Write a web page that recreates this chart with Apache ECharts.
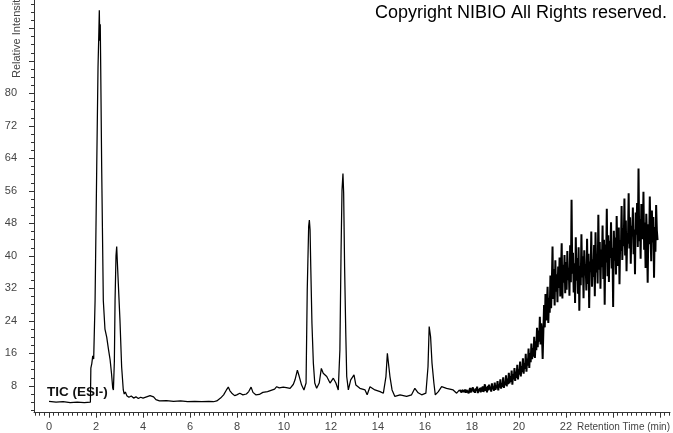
<!DOCTYPE html>
<html>
<head>
<meta charset="utf-8">
<script src="https://cdn.jsdelivr.net/npm/echarts@6/dist/echarts.min.js"></script>
<style>
html,body{margin:0;padding:0;background:#fff;}
#chart{width:673px;height:433px;}
</style>
</head>
<body>
<div id="chart"></div>
<script>
// Retention time (min) for the early, peak-resolved section of the trace
const peakTimes = [
  0.0, 0.3, 0.6, 0.9, 1.2, 1.5, 1.76, 1.78, 1.82, 1.86, 1.90, 1.96, 2.03, 2.085, 2.12, 2.14, 2.16, 2.18, 2.20,
  2.24, 2.31, 2.38, 2.455, 2.53, 2.60, 2.66, 2.71, 2.74, 2.78, 2.81, 2.85, 2.88, 2.90, 2.95, 3.02, 3.09,
  3.16, 3.20, 3.25, 3.31, 3.4, 3.5, 3.6, 3.7, 3.8, 3.9, 4.0, 4.15, 4.3, 4.37, 4.45, 4.55, 4.7, 5.0, 5.3,
  5.6, 5.9, 6.2, 6.5, 6.8, 7.0, 7.14, 7.3, 7.43, 7.55, 7.63, 7.7, 7.78, 7.9, 7.99, 8.12, 8.25, 8.4, 8.5,
  8.6, 8.68, 8.8, 8.95, 9.1, 9.3, 9.45, 9.6, 9.69, 9.8, 9.83, 9.97, 10.1, 10.26, 10.4, 10.47, 10.57, 10.65,
  10.75, 10.85, 10.94, 10.99, 11.05, 11.08, 11.11, 11.14, 11.19, 11.25, 11.31, 11.39, 11.50, 11.59, 11.67,
  11.82, 11.96, 12.10, 12.21, 12.31, 12.38, 12.43, 12.47, 12.51, 12.54, 12.58, 12.63, 12.67, 12.74, 12.84,
  12.98, 13.06, 13.23, 13.45, 13.54, 13.66, 13.87, 14.09, 14.23, 14.34, 14.40, 14.44, 14.51, 14.60, 14.72,
  14.94, 15.22, 15.43, 15.57, 15.71, 15.86, 16.04, 16.13, 16.18, 16.24, 16.30, 16.38, 16.44, 16.57, 16.71,
  16.92, 17.20, 17.35, 17.47
];
// Relative intensity for the section above
const peakValues = [
  4.2, 4.0, 4.1, 3.9, 4.0, 3.9, 4.0, 12.4, 13.5, 15.4, 14.6, 29, 62, 86.5, 95, 100.5, 93, 97, 86,
  62, 29, 22, 20, 17, 14.4, 11, 7.5, 7.0, 14, 29, 40, 42.3, 39.5, 33, 24, 12.7,
  7.0, 6.0, 6.5, 5.6, 5.2, 5.5, 5.0, 5.3, 4.9, 5.2, 5.0, 5.3, 5.6, 6.0, 5.3, 4.6, 4.3, 4.4, 4.2,
  4.3, 4.1, 4.2, 4.1, 4.2, 4.1, 4.3, 5.0, 5.8, 7.0, 7.7, 6.8, 6.2, 5.6, 5.8, 6.2, 5.8, 6.0, 6.6,
  7.7, 6.4, 5.8, 5.9, 6.4, 6.6, 6.9, 7.2, 7.8, 7.5, 7.8, 7.7, 7.6, 7.4, 8.4, 9.5, 11.9, 10.3,
  8.2, 7.0, 8.7, 31.6, 47.2, 48.8, 46.4, 37.3, 23.4, 13.6, 8.7, 7.4, 8.7, 12.3, 11.1,
  10.3, 8.7, 9.9, 8.7, 7.0, 16.9, 41.5, 56.2, 60.3, 55.4, 37.3, 21, 10.3, 7.0, 9.5,
  10.7, 8.2, 7.4, 7.0, 5.8, 7.8, 7.0, 6.6, 6.2, 10.3, 16.0, 16.4, 10.3, 7.0, 5.4,
  5.8, 5.4, 5.8, 7.4, 6.3, 5.8, 6.2, 12.7, 22.6, 20.1, 13.6, 8.7, 5.8, 6.6, 7.8,
  7.4, 7.0, 6.2, 7.0
];
// Late noisy section: scans every 0.03 min starting at 17.50 min
const noisyStartTime = 17.5;
const noisyScanStep = 0.03;
const noisyValues = [
  6.8, 7.2, 6.4, 7.0, 6.6, 7.4, 6.5, 7.1, 6.3, 7.0,
  6.7, 7.3, 6.2, 6.9, 7.5, 6.4, 7.0, 6.6, 7.6, 6.5,
  7.1, 6.3, 7.4, 6.8, 7.8, 6.2, 7.2, 6.7, 7.5, 6.4,
  7.6, 6.6, 7.9, 6.5, 7.3, 8.4, 6.8, 7.7, 6.4, 8.0,
  6.9, 8.3, 7.1, 7.8, 6.6, 8.6, 7.2, 7.9, 6.8, 8.8,
  7.0, 8.1, 7.4, 9.2, 6.9, 8.4, 7.6, 9.6, 7.3, 8.7,
  7.8, 10.1, 7.5, 9.0, 8.2, 10.6, 7.9, 9.8, 8.4, 11.2,
  8.6, 10.4, 9.0, 11.8, 8.3, 10.9, 9.6, 12.4, 9.2, 11.5,
  10.0, 13.2, 9.6, 12.1, 10.8, 14.0, 10.3, 12.9, 11.4, 14.8,
  11.0, 13.6, 12.2, 15.9, 11.5, 14.7, 13.0, 17.2, 12.4, 16.1,
  13.8, 18.4, 14.6, 17.3, 15.2, 20.1, 14.9, 19.0, 16.8, 22.3,
  17.5, 21.6, 18.9, 25.0, 18.2, 23.4, 20.6, 14.6, 21.5, 27.9,
  22.4, 30.6, 24.1, 28.2, 32.4, 23.5, 29.7, 26.0, 35.2, 27.1,
  33.0, 42.3, 29.4, 36.8, 27.8, 38.9, 31.2, 35.5, 28.6, 37.4,
  32.1, 39.6, 30.0, 36.2, 43.1, 29.5, 37.8, 33.4, 40.2, 30.8,
  38.5, 31.7, 41.2, 34.0, 37.1, 30.2, 42.6, 33.5, 53.8, 35.6,
  40.8, 31.0, 38.2, 28.4, 44.6, 33.9, 39.5, 30.7, 42.1, 26.5,
  37.6, 32.8, 45.3, 34.7, 39.9, 29.6, 41.4, 35.2, 38.0, 31.5,
  44.2, 33.1, 40.5, 27.2, 38.6, 36.0, 46.0, 32.4, 39.2, 34.8,
  42.7, 30.1, 45.8, 35.9, 40.0, 33.2, 50.1, 36.6, 43.4, 31.9,
  41.6, 37.2, 47.5, 34.3, 44.0, 28.0, 42.8, 38.4, 51.6, 35.0,
  45.1, 33.6, 43.7, 39.5, 48.3, 36.9, 42.0, 27.4, 46.2, 38.8,
  44.5, 35.4, 49.8, 40.6, 37.5, 47.0, 33.0, 43.9, 41.2, 52.3,
  39.0, 46.8, 42.4, 54.1, 40.1, 48.7, 36.2, 45.6, 43.0, 55.4,
  41.8, 49.5, 38.1, 47.4, 44.8, 51.9, 40.4, 46.5, 35.5, 50.7,
  45.2, 53.0, 42.2, 61.5, 43.6, 49.1, 39.3, 52.8, 46.9, 44.1,
  55.8, 41.5, 48.2, 37.0, 50.4, 44.7, 33.4, 47.8, 42.9, 54.6,
  45.5, 38.7, 51.2, 43.3, 49.6, 34.6, 47.1, 41.0, 52.5, 46.3,
  43.9
];
// Tick labels
const xTickLabels = [0, 2, 4, 6, 8, 10, 12, 14, 16, 18, 20, 22];
const yTickLabels = [8, 16, 24, 32, 40, 48, 56, 64, 72, 80];

const peakData = [];
for (let i = 0; i < peakTimes.length; i++) peakData.push([peakTimes[i], peakValues[i]]);
const noisyData = [[peakTimes[peakTimes.length - 1], peakValues[peakValues.length - 1]]];
for (let i = 0; i < noisyValues.length; i++) noisyData.push([+(noisyStartTime + i * noisyScanStep).toFixed(3), noisyValues[i]]);

const X_MIN = -0.64, X_MAX = 26.43, Y_MIN = 1.4, Y_MAX = 103;
const xMajor = []; for (let v = 0; v <= 26; v += 2) xMajor.push(v);
const xMinor = []; for (let k = -3; k <= 132; k++) { const v = +(k * 0.2).toFixed(2); if (k % 10 !== 0) xMinor.push(v); }
const yMajor = []; for (let v = 8; v <= 96; v += 8) yMajor.push(v);
const yMinor = []; for (let v = 2; v <= 102; v += 2) { if (v % 8 !== 0) yMinor.push(v); }

const font = '"Liberation Sans", Arial, sans-serif';
const axisColor = '#333';
const labelColor = '#444';

const chart = echarts.init(document.getElementById('chart'), null, {renderer: 'canvas'});
chart.setOption({
  animation: false,
  backgroundColor: '#fff',
  grid: {left: 34, right: 3, top: 0, bottom: 20.3, containLabel: false},
  xAxis: [
    {type: 'value', min: X_MIN, max: X_MAX, position: 'bottom',
     axisLine: {show: true, onZero: false, lineStyle: {color: axisColor, width: 1}},
     axisTick: {show: true, length: 5, inside: false, customValues: xMajor, lineStyle: {color: axisColor}},
     axisLabel: {show: true, customValues: xTickLabels, margin: 9, color: labelColor, fontSize: 11, fontFamily: font},
     splitLine: {show: false}},
    {type: 'value', min: X_MIN, max: X_MAX, position: 'bottom',
     axisLine: {show: false, onZero: false},
     axisTick: {show: true, length: 3, customValues: xMinor, lineStyle: {color: axisColor}},
     axisLabel: {show: false}, splitLine: {show: false}}
  ],
  yAxis: [
    {type: 'value', min: Y_MIN, max: Y_MAX, position: 'left',
     axisLine: {show: true, onZero: false, lineStyle: {color: axisColor, width: 1}},
     axisTick: {show: true, length: 5, customValues: yMajor, lineStyle: {color: axisColor}},
     axisLabel: {show: true, customValues: yTickLabels, margin: 17, color: labelColor, fontSize: 11, fontFamily: font},
     splitLine: {show: false}},
    {type: 'value', min: Y_MIN, max: Y_MAX, position: 'left',
     axisLine: {show: false, onZero: false},
     axisTick: {show: true, length: 3, customValues: yMinor, lineStyle: {color: axisColor}},
     axisLabel: {show: false}, splitLine: {show: false}}
  ],
  series: [
    {type: 'line', xAxisIndex: 0, yAxisIndex: 0, data: peakData,
     showSymbol: false, symbol: 'none', smooth: false,
     lineStyle: {color: '#000', width: 1.25}, clip: false},
    {type: 'line', xAxisIndex: 0, yAxisIndex: 0, data: noisyData,
     showSymbol: false, symbol: 'none', smooth: false,
     lineStyle: {color: '#000', width: 2}, clip: false}
  ],
  graphic: [
    {type: 'text', left: 375, top: 4, silent: true,
     style: {text: 'Copyright NIBIO All Rights reserved.', fill: '#000', font: '18px ' + font}},
    {type: 'text', x: 47, y: 392, silent: true,
     style: {text: 'TIC (ESI-)', fill: '#111', font: 'bold 13.5px ' + font, textVerticalAlign: 'middle'}},
    {type: 'text', x: 577, y: 427, silent: true,
     style: {text: 'Retention Time (min)', fill: labelColor, font: '10px ' + font, textVerticalAlign: 'middle'}},
    {type: 'text', x: 17, y: 78, rotation: Math.PI / 2, silent: true,
     style: {text: 'Relative Intensity', fill: labelColor, font: '11px ' + font, textAlign: 'left', textVerticalAlign: 'middle'}}
  ]
});
</script>
</body>
</html>
